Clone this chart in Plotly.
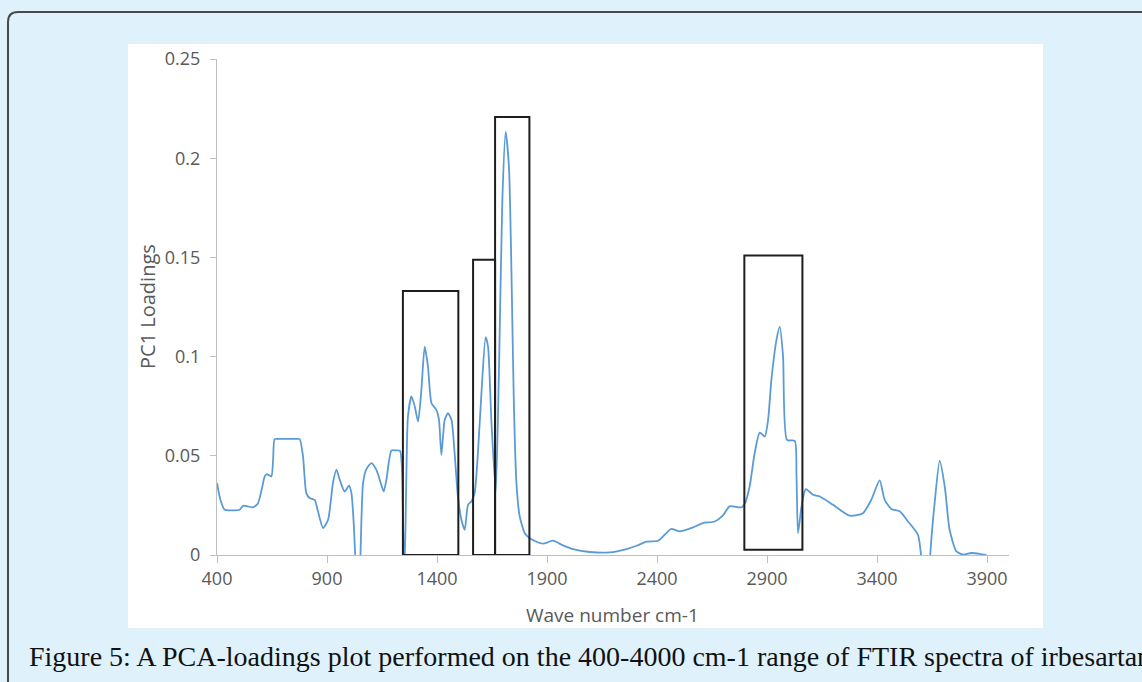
import plotly.graph_objects as go

# ---- data ----
wavenumber = [400, 415, 435, 470, 503, 518, 540, 564, 586, 605, 617, 627, 647, 655, 662, 680, 720, 760, 776,
              791, 806, 821, 844, 859, 882, 905, 927, 943, 958, 980, 1000, 1011, 1022, 1032, 1042, 1052, 1064,
              1079, 1102, 1124, 1145, 1158, 1170, 1193, 1215, 1232, 1240, 1248, 1253, 1260, 1268, 1284, 1299,
              1314, 1329, 1344, 1359, 1375, 1397, 1409, 1420, 1435, 1450, 1466, 1480, 1495, 1511, 1526, 1541,
              1556, 1571, 1586, 1602, 1621, 1632, 1647, 1667, 1682, 1697, 1712, 1727, 1738, 1749, 1761, 1776,
              1799, 1820, 1850, 1882, 1927, 1970, 2018, 2094, 2185, 2261, 2310, 2352, 2405, 2435, 2465, 2503,
              2564, 2609, 2662, 2700, 2730, 2784, 2800, 2821, 2844, 2867, 2890, 2905, 2920, 2943, 2958, 2973,
              2991, 3026, 3034, 3041, 3057, 3076, 3109, 3140, 3200, 3276, 3336, 3374, 3412, 3435, 3465, 3503,
              3541, 3586, 3600, 3612, 3630, 3642, 3662, 3685, 3708, 3730, 3761, 3791, 3829, 3867, 3897]
pc1_loadings = [0.0363, 0.028, 0.0228, 0.0225, 0.0228, 0.0248, 0.0245, 0.024, 0.026, 0.034, 0.0396, 0.0408,
                0.0396, 0.048, 0.0584, 0.0585, 0.0585, 0.0585, 0.0584, 0.0497, 0.0312, 0.0287, 0.0278, 0.022,
                0.0136, 0.0178, 0.0363, 0.043, 0.0379, 0.032, 0.0349, 0.0312, 0.015, -0.01, -0.03, 0.0, 0.0363,
                0.0433, 0.0463, 0.043, 0.036, 0.032, 0.0379, 0.0527, 0.0527, 0.0525, 0.045, 0.005, -0.005, 0.035,
                0.0698, 0.0799, 0.0748, 0.0673, 0.0832, 0.105, 0.095, 0.0765, 0.0732, 0.0681, 0.0505, 0.0681,
                0.0715, 0.0681, 0.0514, 0.0295, 0.0178, 0.0127, 0.0253, 0.027, 0.0312, 0.0514, 0.0816, 0.1098,
                0.105, 0.068, 0.032, 0.095, 0.179, 0.2133, 0.1957, 0.1453, 0.0782, 0.0363, 0.0194, 0.011, 0.0086,
                0.0068, 0.0057, 0.0072, 0.005, 0.003, 0.0015, 0.0013, 0.003, 0.0048, 0.0067, 0.0072, 0.0102,
                0.0132, 0.0119, 0.0139, 0.0161, 0.0169, 0.02, 0.0245, 0.024, 0.026, 0.0345, 0.0514, 0.0617,
                0.0597, 0.0681, 0.0883, 0.1084, 0.1151, 0.1, 0.058, 0.0575, 0.04, 0.011, 0.0245, 0.0332, 0.0304,
                0.0295, 0.0253, 0.0198, 0.0211, 0.0278, 0.0376, 0.0278, 0.0232, 0.022, 0.0169, 0.0102, 0.0,
                -0.03, -0.03, 0.0, 0.0262, 0.0476, 0.0345, 0.0127, 0.0018, 0.0002, 0.001, 0.0006, 0.0]

# highlighted regions: (x start, x end, y bottom, y top)
box_x0 = [1245, 1564, 1664, 2797]
box_x1 = [1497, 1664, 1820, 3061]
box_y0 = [0.0, 0.0, 0.0, 0.0027]
box_y1 = [0.1331, 0.1488, 0.2208, 0.1509]

x_tick_vals = [400, 900, 1400, 1900, 2400, 2900, 3400, 3900]
y_tick_vals = [0, 0.05, 0.1, 0.15, 0.2, 0.25]
y_tick_text = ["0", "0.05", "0.1", "0.15", "0.2", "0.25"]

x_title = "Wave number cm-1"
y_title = "PC1 Loadings"
caption = "Figure 5: A PCA-loadings plot performed on the 400-4000 cm-1 range of FTIR spectra of irbesartan"

# ---- layout geometry (pixels) ----
W, H = 1142, 682
L, R_EDGE, T, B_EDGE = 217, 1009, 59, 555


def px(x):
    return (x - L) / (R_EDGE - L)


def py(y):
    return (B_EDGE - y) / (B_EDGE - T)


TXT = "#595959"
AX = "#bfbfbf"
FONT = "Open Sans"

fig = go.Figure()
fig.add_trace(go.Scatter(
    x=wavenumber, y=pc1_loadings, mode="lines",
    line=dict(color="#5b9bd5", width=1.8, shape="spline", smoothing=0.6),
    hoverinfo="x+y", showlegend=False,
))

shapes = []
# white panel behind the chart
shapes.append(dict(type="rect", xref="paper", yref="paper", layer="below",
                   x0=px(128), x1=px(1043), y0=py(628), y1=py(44),
                   fillcolor="white", line=dict(width=0)))
# outer frame (rounded top-left corner, running off right & bottom)
r = 10
fx0, fy0 = 8, 12
path = (f"M {px(fx0)},{py(700)} L {px(fx0)},{py(fy0 + r)} "
        f"Q {px(fx0)},{py(fy0)} {px(fx0 + r)},{py(fy0)} L {px(1160)},{py(fy0)}")
shapes.append(dict(type="path", xref="paper", yref="paper", layer="below", path=path,
                   line=dict(color="#4a4a4a", width=2)))
for a, b, c, d in zip(box_x0, box_x1, box_y0, box_y1):
    shapes.append(dict(type="rect", xref="x", yref="y", x0=a, x1=b, y0=c, y1=d,
                       line=dict(color="#1e1e1e", width=2), fillcolor="rgba(0,0,0,0)"))

annotations = [
    dict(text=y_title, xref="paper", yref="paper", x=px(147), y=py(307), textangle=-90,
         showarrow=False, xanchor="center", yanchor="middle",
         font=dict(family=FONT, size=20, color=TXT)),
    dict(text=x_title, xref="paper", yref="paper", x=px(612), y=py(615),
         showarrow=False, xanchor="center", yanchor="middle",
         font=dict(family=FONT, size=19, color=TXT)),
    dict(text=caption, xref="paper", yref="paper", x=px(27), y=py(656),
         showarrow=False, xanchor="left", yanchor="middle",
         font=dict(family="Liberation Serif", size=28, color="#111111")),
]

fig.update_layout(
    width=W, height=H, autosize=False,
    margin=dict(l=L, r=W - R_EDGE, t=T, b=H - B_EDGE, pad=0),
    paper_bgcolor="#dff1fb", plot_bgcolor="white",
    shapes=shapes, annotations=annotations,
    xaxis=dict(range=[400, 4000], tickvals=x_tick_vals, showgrid=False, zeroline=False,
               showline=True, linecolor=AX, linewidth=1.3, ticks="outside", ticklen=7,
               tickcolor=AX, tickwidth=1.3, tickfont=dict(family=FONT, size=18, color=TXT)),
    yaxis=dict(range=[0, 0.25], tickvals=y_tick_vals, ticktext=y_tick_text, showgrid=False,
               zeroline=False, showline=True, linecolor=AX, linewidth=1.3, ticks="outside",
               ticklen=6, tickcolor=AX, tickwidth=1.3, ticklabelstandoff=6,
               tickfont=dict(family=FONT, size=18, color=TXT)),
)

fig.write_html("out.html")
